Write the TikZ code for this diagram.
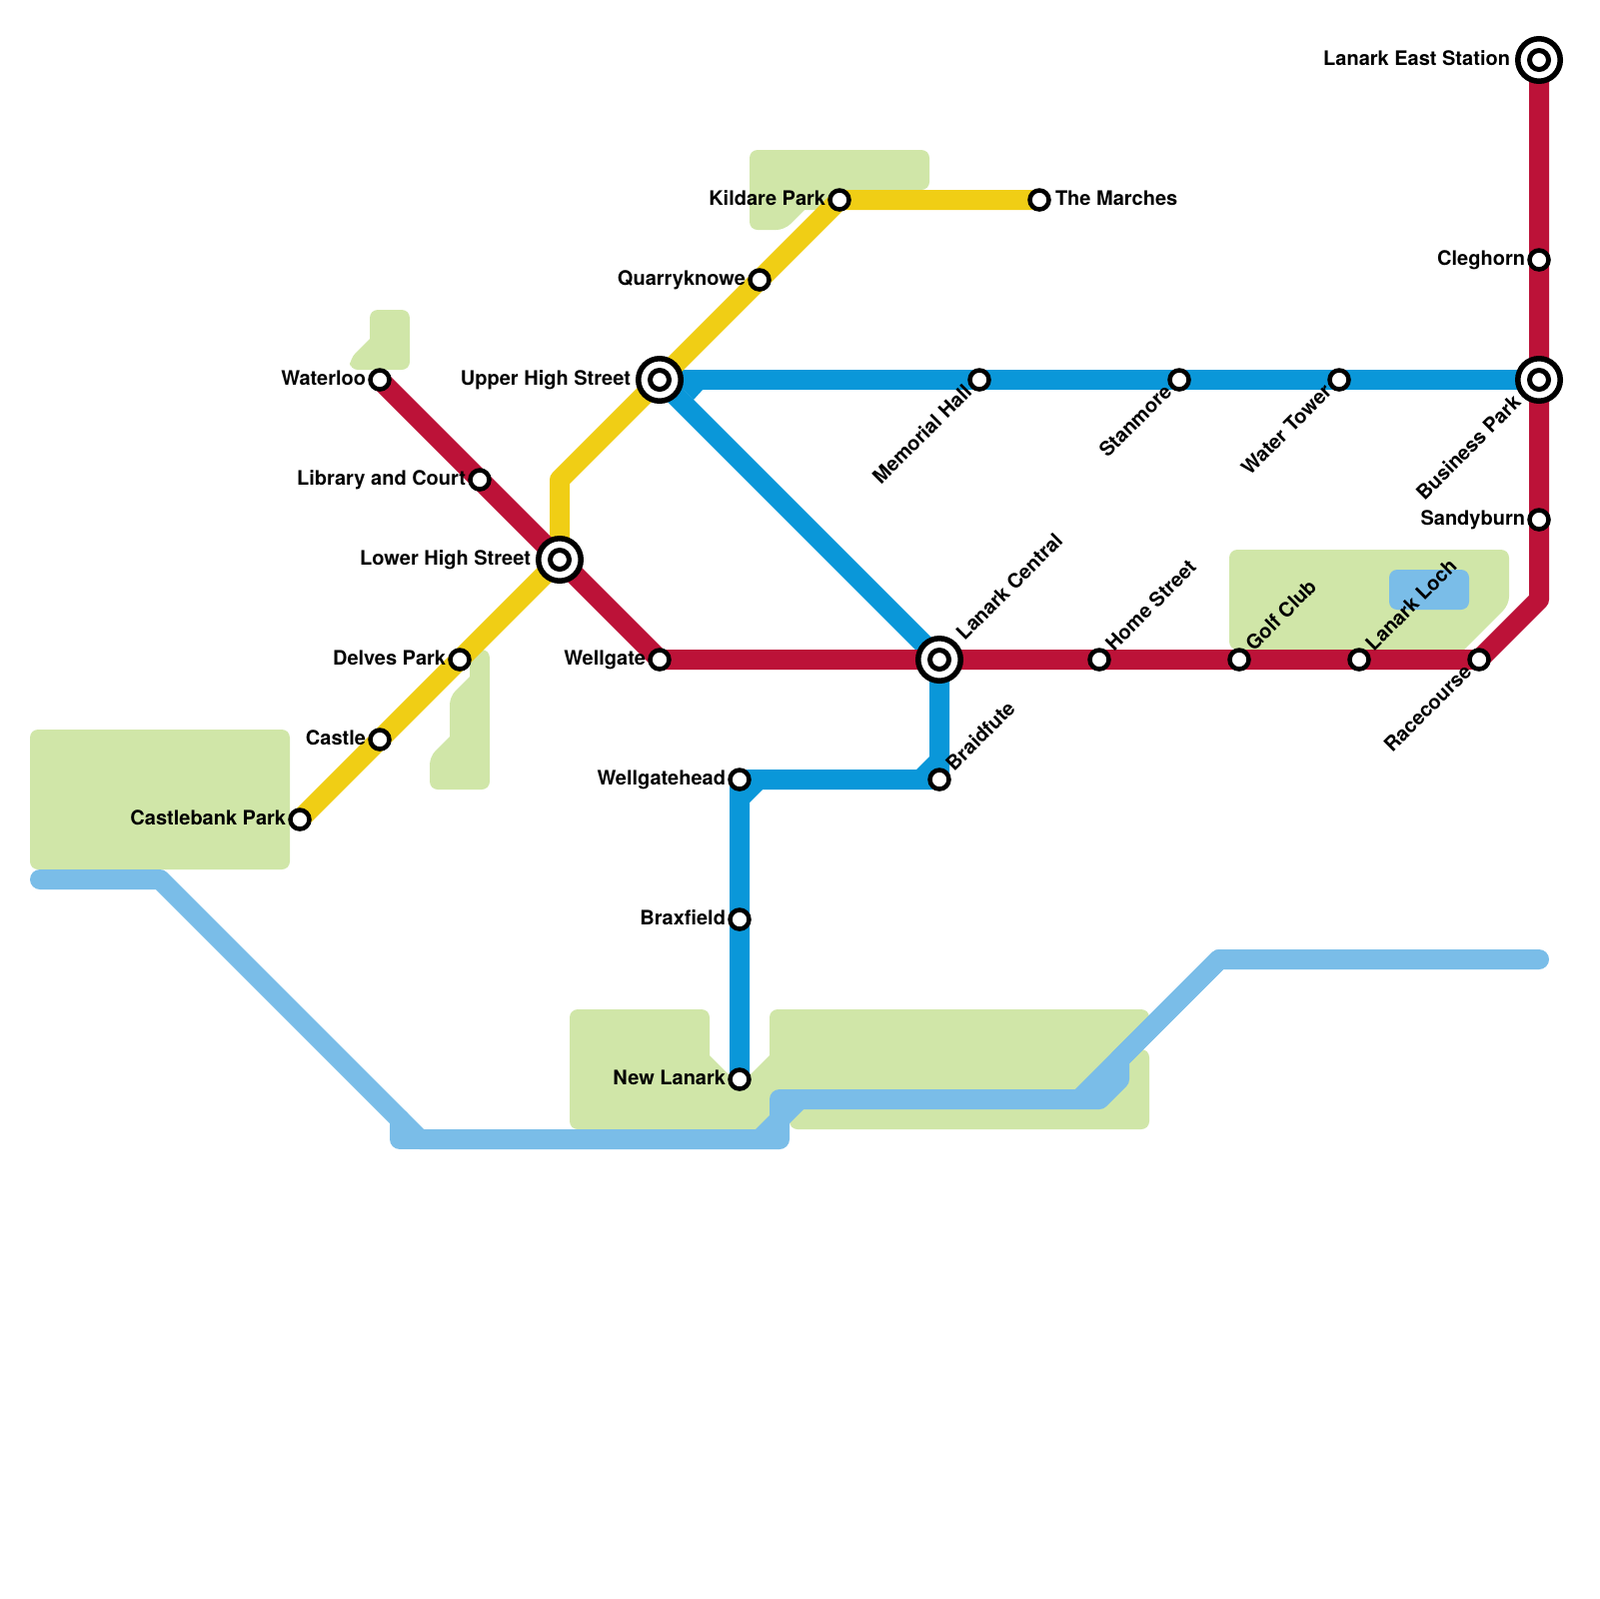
\documentclass[tikz,border=0pt]{standalone}
\usepackage{fontspec}
\setmainfont{TeX Gyre Heros}
\usetikzlibrary{backgrounds}
\definecolor{cPark} {HTML}{D0E6A8}
\definecolor{cWater}{HTML}{7ABDE8}
\definecolor{cRed}  {HTML}{BC1238}
\definecolor{cGold} {HTML}{F0CE15}
\definecolor{cBlue} {HTML}{0A97D9}
% text after the stop: style, name, x, y, angle, gap, text
\newcommand{\stopA}[7]{%
  \node[#1] (#2) at (#3,#4) {};%
  \node[stntxt,rotate=#5,anchor=base west] (#2T)
    at ({#3+#6*cos(#5)+5*sin(#5)},{#4-#6*sin(#5)+5*cos(#5)}) {#7};%
}
% text before the stop
\newcommand{\stopB}[7]{%
  \node[#1] (#2) at (#3,#4) {};%
  \node[stntxt,rotate=#5,anchor=base east] (#2T)
    at ({#3-#6*cos(#5)+5*sin(#5)},{#4+#6*sin(#5)+5*cos(#5)}) {#7};%
}

\begin{document}
\begin{tikzpicture}[x=0.1mm,y=-0.1mm,
    stn/.style   ={circle,draw=black,fill=white,line width=0.45mm,
                   minimum size=1.9mm,inner sep=0pt,outer sep=0pt},
    hub/.style   ={circle,draw=black,fill=white,line width=0.55mm,
                   minimum size=4.25mm,inner sep=0pt,outer sep=0pt,
                   path picture={\draw[black,line width=0.5mm]
                     (path picture bounding box.center) circle (0.95mm);}},
    stntxt/.style={font=\fontsize{5.69}{7}\selectfont\bfseries,text=black,
                   inner sep=0pt,outer sep=0pt},
    route/.style ={line width=2mm,line join=round},
    river/.style ={route,cWater,line cap=round},
    park/.style  ={fill=cPark,rounded corners=0.8mm},
  ]

% fixed bounding box
\path[use as bounding box] (0,0) rectangle (1600,1600);

% ---- red line stops --------------------------------------------------------
\stopB{hub}{eastStn}   {1540}{60} {0} {29}{Lanark East Station}
\stopB{stn}{cleghorn}  {1540}{260}{0} {14}{Cleghorn}
\stopB{hub}{business}  {1540}{380}{45}{29}{Business Park}
\stopB{stn}{sandyburn} {1540}{520}{0} {14}{Sandyburn}
\stopB{stn}{racecourse}{1480}{660}{45}{14}{Racecourse}
\stopA{stn}{loch}      {1360}{660}{45}{16}{Lanark Loch}
\stopA{stn}{golf}      {1240}{660}{45}{16}{Golf Club}
\stopA{stn}{home}      {1100}{660}{45}{16}{Home Street}
\stopA{hub}{central}   {940} {660}{45}{31}{Lanark Central}
\stopB{stn}{wellgate}  {660} {660}{0} {14}{Wellgate}
\stopB{hub}{lowerHigh} {560} {560}{0} {29}{Lower High Street}
\stopB{stn}{library}   {480} {480}{0} {14}{Library and Court}
\stopB{stn}{waterloo}  {380} {380}{0} {14}{Waterloo}

% ---- yellow line stops -----------------------------------------------------
\stopB{stn}{castlebank}{300} {820}{0} {14}{Castlebank Park}
\stopB{stn}{castle}    {380} {740}{0} {14}{Castle}
\stopB{stn}{delves}    {460} {660}{0} {14}{Delves Park}
\stopB{hub}{upperHigh} {660} {380}{0} {29}{Upper High Street}
\stopB{stn}{quarry}    {760} {280}{0} {14}{Quarryknowe}
\stopB{stn}{kildare}   {840} {200}{0} {14}{Kildare Park}
\stopA{stn}{marches}   {1040}{200}{0} {16}{The Marches}

% ---- blue line stops -------------------------------------------------------
\stopB{stn}{memorial}  {980} {380}{45}{14}{Memorial Hall}
\stopB{stn}{stanmore}  {1180}{380}{45}{14}{Stanmore}
\stopB{stn}{water}     {1340}{380}{45}{14}{Water Tower}
\stopA{stn}{braidfute} {940} {780}{45}{16}{Braidfute}
\stopB{stn}{wellhead}  {740} {780}{0} {14}{Wellgatehead}
\stopB{stn}{braxfield} {740} {920}{0} {14}{Braxfield}
\stopB{stn}{newLanark} {740} {1080}{0}{14}{New Lanark}

\coordinate (redBend)  at (1540,600);
\coordinate (goldBend) at (560,480);

\begin{scope}[on background layer]
% ---- parks -----------------------------------------------------------------
\fill[park] (30,730) rectangle (290,870);
\fill[park] (410,310) -- (410,370) -- (350,370) -- (350,359)
  [sharp corners] -- (370,339) [rounded corners=0.8mm] -- (370,310) -- cycle;
\fill[park] (490,650) -- (490,790) -- (430,790) -- (430,757)
  [sharp corners] -- (450,737) [rounded corners=0.8mm] -- (450,697)
  [sharp corners] -- (470,677) [rounded corners=0.8mm] -- (470,650) -- cycle;
\fill[park] (750,150) -- (930,150) -- (930,190) -- (830,190) -- (830,210)
  [sharp corners] -- (805,210) [rounded corners=0.8mm] -- (785,230) -- (750,230) -- cycle;
\fill[park] (1230,550) -- (1510,550) -- (1510,605)
  [sharp corners] -- (1465,650) [rounded corners=0.8mm] -- (1230,650) -- cycle;
\fill[park] (570,1010) -- (710,1010) [sharp corners] -- (710,1056) -- (740,1086)
  -- (770,1056) [rounded corners=0.8mm] -- (770,1010) -- (1150,1010)
  -- (1150,1030) -- (1130,1050) -- (1150,1050) -- (1150,1130) -- (790,1130)
  -- (790,1115) -- (770,1115) -- (770,1130) -- (570,1130) -- cycle;

% ---- water -----------------------------------------------------------------
\fill[cWater,rounded corners=0.8mm] (1390,570) rectangle (1470,610);
\coordinate (riverW)  at (40,880);
\coordinate (riverA)  at (160,880);
\coordinate (riverB)  at (400,1120);
\coordinate (riverC)  at (400,1140);
\coordinate (riverD)  at (780,1140);
\coordinate (riverF)  at (780,1100);
\coordinate (riverG)  at (1100,1100);
\coordinate (riverH)  at (1120,1080);
\coordinate (riverJ)  at (1120,1060);
\coordinate (riverK)  at (1220,960);
\coordinate (riverE)  at (1540,960);
\coordinate (riverM)  at (1080,1100);
\coordinate (riverN)  at (420,1140);
\draw[river] (riverW) -- (riverA) -- (riverN) -- (riverD) -- (riverF) -- (riverG)
  -- (riverH) -- (riverJ) -- (riverK) -- (riverE);
\draw[river] (riverB) -- (riverC) -- (riverN);
\draw[river] (riverK) -- (riverM);
\fill[cWater] (790,1110) -- (804,1110) -- (790,1124) -- cycle;
\fill[cWater] (770,1130) -- (756,1130) -- (770,1116) -- cycle;

% ---- lines -----------------------------------------------------------------
\draw[route,cBlue] (upperHigh.center) -- (memorial.center) -- (stanmore.center)
  -- (water.center) -- (business.center);
\draw[route,cBlue] (upperHigh.center) -- (central.center) -- (braidfute.center)
  -- (wellhead.center) -- (braxfield.center) -- (newLanark.center);
\fill[cBlue] (684,390) -- (703,390) -- (694,400) -- cycle;
\fill[cBlue] (750,790) -- (750,803) -- (763,790) -- cycle;
\fill[cBlue] (930,770) -- (917,770) -- (930,757) -- cycle;

\draw[route,cGold] (castlebank.center) -- (castle.center) -- (delves.center)
  -- (lowerHigh.center) -- (goldBend) -- (upperHigh.center) -- (quarry.center)
  -- (kildare.center) -- (marches.center);

\draw[route,cRed] (waterloo.center) -- (library.center) -- (lowerHigh.center)
  -- (wellgate.center) -- (central.center) -- (home.center) -- (golf.center)
  -- (loch.center) -- (racecourse.center) -- (redBend) -- (sandyburn.center)
  -- (business.center) -- (cleghorn.center) -- (eastStn.center);
\end{scope}

\end{tikzpicture}
\end{document}
